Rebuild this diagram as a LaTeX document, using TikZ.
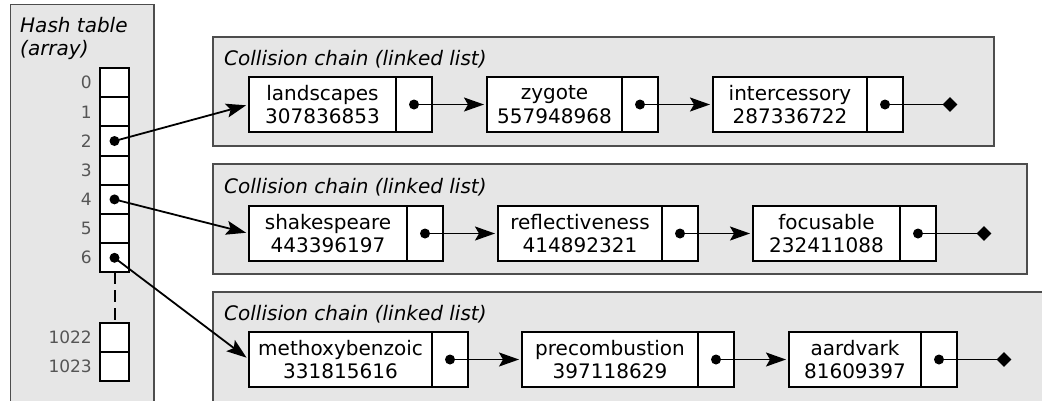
\documentclass[tikz,border=0pt]{standalone}
\usepackage{fontspec}
\setmainfont{DejaVu Sans}
\usetikzlibrary{arrows.meta,shapes.geometric}
\definecolor{panel}{HTML}{E6E6E6}
\definecolor{panelline}{HTML}{4D4D4D}
\definecolor{idxcol}{HTML}{555555}
\begin{document}
\begin{tikzpicture}[x=1pt,y=-1pt,
  font=\fontsize{20}{23.5}\selectfont,
  panelbox/.style={fill=panel, draw=panelline, line width=1.2pt},
  cell/.style={draw, line width=2pt, fill=white, minimum width=29pt, minimum height=29.2pt, inner sep=0pt, outer sep=0pt},
  datab/.style={draw, line width=2pt, fill=white, minimum height=55pt, inner sep=0pt, outer sep=0pt, align=center, anchor=west},
  ptrb/.style={draw, line width=2pt, fill=white, minimum width=36pt, minimum height=55pt, inner sep=0pt, outer sep=0pt, anchor=west},
  dotn/.style={circle, fill=black, inner sep=0pt, minimum size=10pt},
  endmark/.style={diamond, fill=black, inner sep=0pt, minimum size=15pt},
  link/.style={line width=1.8pt, shorten >=3pt, -{Stealth[length=20pt,width=14pt,inset=4pt]}},
  plainlink/.style={line width=1.8pt},
  idxl/.style={anchor=east, text=idxcol, font=\fontsize{17}{20}\selectfont, inner sep=0pt},
  ttl/.style={anchor=base west, font=\fontsize{20}{23.5}\selectfont\itshape, inner sep=0pt}
]
\useasboundingbox (0,0) rectangle (1042,400);
\clip (0,0) rectangle (1042,400);

% panels
\draw[panelbox] (10.5,4.5) rectangle (154,420);
\draw[panelbox] (213,37) rectangle (994,146);
\draw[panelbox] (213,164) rectangle (1027,274);
\draw[panelbox] (213,292) rectangle (1060,420);

% titles
\node[ttl] (ht1) at (20,32) {Hash table};
\node[ttl] (ht2) at (20,55) {(array)};
\node[ttl] (t1) at (224,65) {Collision chain (linked list)};
\node[ttl] (t2) at (224,193) {Collision chain (linked list)};
\node[ttl] (t3) at (224,320) {Collision chain (linked list)};

% array cells
\foreach \i in {0,...,6} {
  \node[cell] (c\i) at (114.5,{82.6+29.2*\i}) {};
  \node[idxl] at ([xshift=-8pt]c\i.west) {\i};
}
\node[cell] (c1022) at (114.5,337.4) {};
\node[idxl] at ([xshift=-8pt]c1022.west) {1022};
\node[cell] (c1023) at (114.5,366.6) {};
\node[idxl] at ([xshift=-8pt]c1023.west) {1023};
\draw[line width=2pt, dash pattern=on 12pt off 6pt] (c6.south) -- (c1022.north);

% chain 1
\node[datab, minimum width=147pt] (n11) at (249,104.5) {landscapes\\307836853};
\node[ptrb] (p11) at (n11.east) {};
\node[datab, minimum width=135pt] (n12) at (487,104.5) {zygote\\557948968};
\node[ptrb] (p12) at (n12.east) {};
\node[datab, minimum width=154pt] (n13) at (713,104.5) {intercessory\\287336722};
\node[ptrb] (p13) at (n13.east) {};

% chain 2
\node[datab, minimum width=158pt] (n21) at (249,233.5) {shakespeare\\443396197};
\node[ptrb] (p21) at (n21.east) {};
\node[datab, minimum width=164pt] (n22) at (498,233.5) {reflectiveness\\414892321};
\node[ptrb] (p22) at (n22.east) {};
\node[datab, minimum width=147pt] (n23) at (753,233.5) {focusable\\232411088};
\node[ptrb] (p23) at (n23.east) {};

% chain 3
\node[datab, minimum width=183pt] (n31) at (249,359.5) {methoxybenzoic\\331815616};
\node[ptrb] (p31) at (n31.east) {};
\node[datab, minimum width=176pt] (n32) at (522,359.5) {precombustion\\397118629};
\node[ptrb] (p32) at (n32.east) {};
\node[datab, minimum width=132pt] (n33) at (789,359.5) {aardvark\\81609397};
\node[ptrb] (p33) at (n33.east) {};

% dots in array
\node[dotn] (d2) at (c2.center) {};
\node[dotn] (d4) at (c4.center) {};
\node[dotn] (d6) at (c6.center) {};
\draw[link] (d2.center) -- (n11.west);
\draw[link] (d4.center) -- (n21.west);
\draw[link] (d6.center) -- (n31.west);

% dots in pointer cells and links
\foreach \r in {1,2,3} {
  \foreach \k in {1,2,3} {
    \node[dotn] (q\r\k) at (p\r\k.center) {};
  }
}
\draw[link] (q11.center) -- (n12.west);
\draw[link] (q12.center) -- (n13.west);
\draw[link] (q21.center) -- (n22.west);
\draw[link] (q22.center) -- (n23.west);
\draw[link] (q31.center) -- (n32.west);
\draw[link] (q32.center) -- (n33.west);

% terminators
\node[endmark] (e1) at ([xshift=47pt]p13.east) {};
\node[endmark] (e2) at ([xshift=48pt]p23.east) {};
\node[endmark] (e3) at ([xshift=47pt]p33.east) {};
\draw[plainlink] (q13.center) -- (e1.center);
\draw[plainlink] (q23.center) -- (e2.center);
\draw[plainlink] (q33.center) -- (e3.center);
\end{tikzpicture}
\end{document}
